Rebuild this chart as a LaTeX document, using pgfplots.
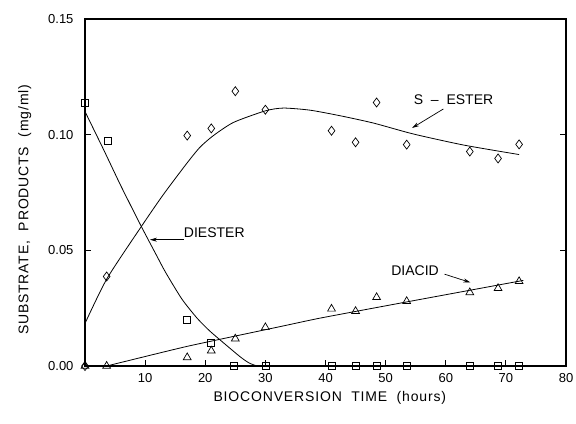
\documentclass[border=0pt]{standalone}
\usepackage{fontspec}
\setmainfont{Liberation Sans}
\usepackage{pgfplots}
\pgfplotsset{compat=1.18}
\usetikzlibrary{calc,arrows.meta}

% measured data (mg/ml vs hours)
\pgfplotstableread{
t c
0 0.1138
3.8 0.0974
17 0.0198
21 0.0100
24.8 0
30 0
41 0
45 0
48.5 0
53.5 0
64 0
68.7 0
72.2 0
}\diester
\pgfplotstableread{
t c
0 0
3.6 0.0387
17 0.0996
21 0.1027
25 0.1188
30 0.1108
41 0.1017
45 0.0967
48.5 0.1139
53.5 0.0957
64 0.0927
68.7 0.0897
72.2 0.0958
}\sester
\pgfplotstableread{
t c
0 0
3.6 0
17 0.0037
21 0.0066
25 0.0118
30 0.0167
41 0.0247
45 0.0237
48.5 0.0297
53.5 0.0280
64 0.0318
68.7 0.0336
72.2 0.0366
}\diacid

\begin{document}
\begin{tikzpicture}
\begin{axis}[
  scale only axis,width=481pt,height=347pt,
  xmin=0,xmax=80,ymin=0,ymax=0.15,
  xtick={10,20,...,80},ytick={0,0.05,0.10,0.15},
  scaled y ticks=false,
  yticklabel style={xshift=-8pt,/pgf/number format/.cd,fixed,fixed zerofill,precision=2},
  xticklabel style={yshift=-4pt},
  /pgf/number format/assume math mode=true,
  xtick pos=left,ytick pos=both,
  tick align=inside,major tick length=6pt,
  tick style={black,line width=0.8pt},
  axis line style={line width=1.3pt},
  tick label style={font=\fontsize{13}{15}\selectfont},
  label style={font=\fontsize{14}{16}\selectfont\addfontfeature{LetterSpace=6}},
  xlabel={BIOCONVERSION\ \ TIME\ \ (hours)},
  ylabel={SUBSTRATE,\ \ PRODUCTS\ \ (mg/ml)},
  xlabel style={at={(axis description cs:0.509,-0.092)},anchor=center},
  ylabel style={at={(axis description cs:-0.125,0.45)},anchor=center},
  clip=false,
]
% fitted curves
\addplot[black,line width=0.8pt,smooth,tension=0.4] coordinates {
(0,0.110) (3.1,0.0935) (6,0.0777) (9.37,0.0603) (11.9,0.0478) (13.4,0.0405)
(16.1,0.0290) (18.6,0.0208) (20.6,0.0155) (22.5,0.0112) (25.8,0.0040) (27.3,0.0013) (28.6,0)};
\addplot[black,line width=0.8pt] coordinates {(28.6,0) (72.5,0)};
\addplot[black,line width=0.8pt,smooth,tension=0.4] coordinates {
(0,0.0184) (3.66,0.0378) (9.37,0.0603) (13,0.0740) (16.9,0.0875) (19.1,0.0945)
(21.3,0.0995) (24.7,0.1053) (30,0.1103) (33,0.1115) (37.4,0.1106) (42.4,0.1082)
(48,0.1050) (54.6,0.1003) (63,0.0955) (72.2,0.0914)};
\addplot[black,line width=0.8pt,smooth,tension=0.3] coordinates {
(3.6,0) (17,0.0085) (32.4,0.0170) (39.1,0.0207) (53.5,0.0277) (72.9,0.0370)};
% data points
\addplot[only marks,mark=square,mark size=3.5pt,black,line width=0.7pt] table {\diester};
\addplot[only marks,mark=diamond,mark size=4.5pt,black,line width=0.7pt] table {\sester};
\addplot[only marks,mark=triangle,mark size=4.5pt,black,line width=0.7pt] table {\diacid};
% annotations
\node[font=\fontsize{14}{16}\selectfont] at (axis cs:61.3,0.1151) {S\ \ --\ \ ESTER};
\draw[-{Stealth[length=7pt,width=4pt]},line width=0.7pt] (axis cs:59.6,0.1111) -- (axis cs:54.4,0.1029);
\node[font=\fontsize{14}{16}\selectfont] at (axis cs:21.5,0.0576) {DIESTER};
\draw[-{Stealth[length=7pt,width=4pt]},line width=0.7pt] (axis cs:16.4,0.0546) -- (axis cs:10.8,0.0546);
\node[font=\fontsize{14}{16}\selectfont] at (axis cs:54.9,0.0414) {DIACID};
\draw[-{Stealth[length=7pt,width=4pt]},line width=0.7pt] (axis cs:59.8,0.0397) -- (axis cs:64.1,0.0361);
\end{axis}
\pgfresetboundingbox
\path ($(current axis.south west)+(-85pt,-57pt)$) rectangle ($(current axis.north east)+(10pt,19pt)$);
\end{tikzpicture}
\end{document}
